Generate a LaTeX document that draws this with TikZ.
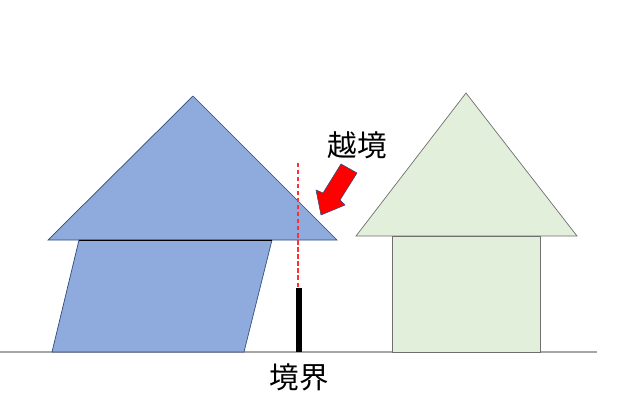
\documentclass[tikz,border=0pt]{standalone}
\usepackage{fontspec}
\usepackage[HTML]{xcolor}
\usepackage{tikz}
\usetikzlibrary{positioning}
\newfontfamily\jpfont{Noto Sans CJK JP}

\definecolor{roofblue}{HTML}{8FAADC}
\definecolor{lineblue}{HTML}{2F4A7A}
\definecolor{wallgreen}{HTML}{E2EFDA}
\definecolor{linegray}{HTML}{6F6F6F}
\definecolor{groundgray}{HTML}{A6A6A6}
\definecolor{dashred}{HTML}{FF3030}

\begin{document}
\begin{tikzpicture}[x=0.025cm, y=-0.025cm,
    bluepart/.style={fill=roofblue, draw=lineblue, line width=0.5pt},
    greenpart/.style={fill=wallgreen, draw=linegray, line width=0.5pt},
    label/.style={font=\jpfont\fontsize{21}{24}\selectfont, inner sep=0pt}]

    \useasboundingbox (0,0) rectangle (640,401);

    % 1. Ground
    \draw[groundgray, line width=1.4pt] (0,352) -- (597,352);

    % 2. Left house: roof first, leaning wall on top
    \draw[bluepart] (48,240) -- (193,96) -- (337,240) -- cycle;
    \draw[bluepart] (52,352) -- (79,240) -- (272,240) -- (244,352) -- cycle;
    \draw[black, line width=0.6pt] (79,240) -- (272,240); % wall top edge

    % 3. Right house
    \draw[greenpart] (356,236) -- (466,93) -- (577,236) -- cycle;
    \draw[greenpart] (392,352) rectangle (540,236);

    % 4. Boundary post and its line
    \coordinate (postTop) at (299,288);
    \coordinate (postFoot) at (299,352);
    \coordinate (lineTop) at (298,163);
    \draw[draw=dashred, line width=1pt, dash pattern=on 3pt off 2pt] (lineTop) -- (298,288);
    \draw[black, line width=4.2pt] (postTop) -- (postFoot);

    % 5. Red block arrow
    \draw[fill=red, draw=lineblue, line width=0.4pt]
        (341,164) -- (357,173) -- (340,200) -- (345,205) -- (321,215)
        -- (316,190) -- (323,193) -- cycle;

    % 6. Labels
    \node[label] (cross) at (357,145) {越境};
    \node[label] (bound) at (299,377) {境界};
\end{tikzpicture}
\end{document}
